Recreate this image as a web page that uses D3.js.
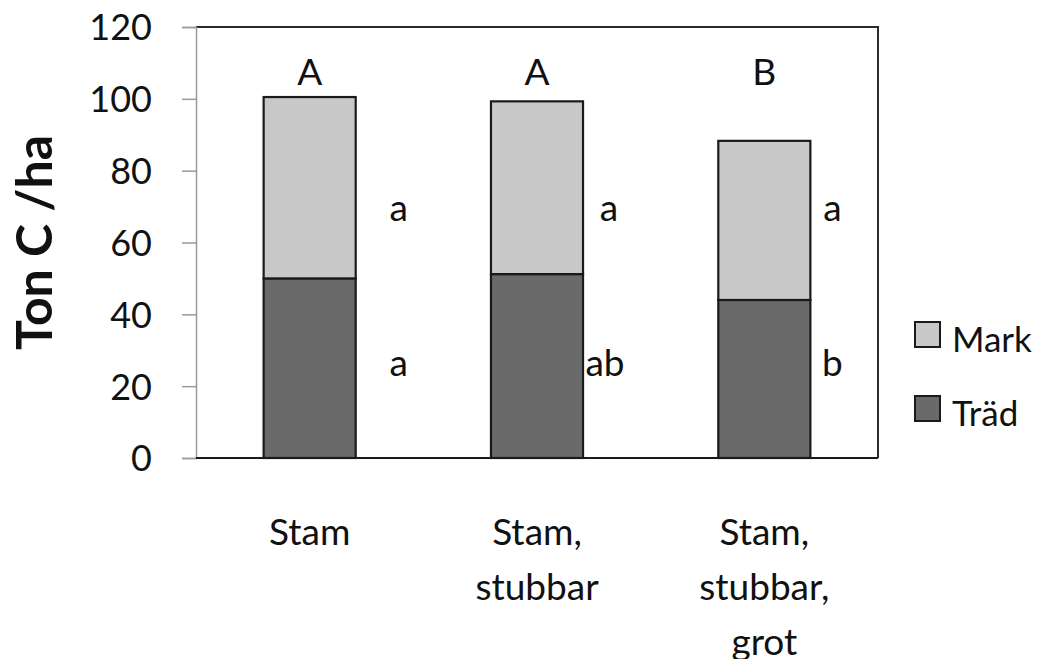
<!DOCTYPE html>
<html>
<head>
<meta charset="utf-8">
<script src="https://cdn.jsdelivr.net/npm/d3@7"></script>
<style>
  html, body { margin: 0; padding: 0; background: #fff; }
  svg { display: block; }
  text { font-family: Lato, "Open Sans", sans-serif; fill: #111; }
</style>
</head>
<body>
<svg id="chart" width="1049" height="659"></svg>
<script>
// Carbon stock per treatment (ton C / ha)
const categories = [["Stam"], ["Stam,", "stubbar"], ["Stam,", "stubbar,", "grot"]];
const tradValues = [50.0, 51.2, 44.0];
const markValues = [50.5, 48.1, 44.3];
const totalLetters = ["A", "A", "B"];
const markLetters = ["a", "a", "a"];
const tradLetters = ["a", "ab", "b"];
const yTicks = [0, 20, 40, 60, 80, 100, 120];
const seriesNames = ["Mark", "Träd"];
const seriesColors = { "Mark": "#c8c8c8", "Träd": "#6a6a6a" };

const svg = d3.select("#chart");
const plotLeft = 196, plotRight = 878, plotTop = 27, plotBottom = 458;

const x = d3.scaleBand().domain(d3.range(categories.length)).range([plotLeft, plotRight]).paddingInner(0.595).paddingOuter(0.2975);
const y = d3.scaleLinear().domain([0, 120]).range([plotBottom, plotTop]);

// frame: top and right edges
svg.append("path")
  .attr("d", `M${plotLeft},${plotTop}H${plotRight}V${plotBottom}`)
  .attr("fill", "none").attr("stroke", "#2a2a2a").attr("stroke-width", 2);

// y axis
const yAxis = svg.append("g").attr("transform", `translate(${plotLeft},0)`)
  .call(d3.axisLeft(y).tickValues(yTicks).tickSize(14).tickPadding(30));
yAxis.select(".domain").attr("stroke", "#9a9a9a").attr("stroke-width", 1.5);
yAxis.selectAll(".tick line").attr("stroke", "#9a9a9a").attr("stroke-width", 1.5);
yAxis.selectAll(".tick text").style("font-size", "36px").style("font-family", "Lato, sans-serif").attr("fill", "#111").attr("dy", "0.36em");

// stacked bars
const stacked = categories.map((c, i) => ({ i, trad: tradValues[i], mark: markValues[i] }));
const bw = x.bandwidth();
const g = svg.append("g");
stacked.forEach(d => {
  g.append("rect")
    .attr("x", x(d.i)).attr("width", bw)
    .attr("y", y(d.trad)).attr("height", y(0) - y(d.trad))
    .attr("fill", seriesColors["Träd"]).attr("stroke", "#1a1a1a").attr("stroke-width", 2.2);
  g.append("rect")
    .attr("x", x(d.i)).attr("width", bw)
    .attr("y", y(d.trad + d.mark)).attr("height", y(d.trad) - y(d.trad + d.mark))
    .attr("fill", seriesColors["Mark"]).attr("stroke", "#1a1a1a").attr("stroke-width", 2.2);
});

// bottom axis line
svg.append("line").attr("x1", plotLeft).attr("x2", plotRight).attr("y1", plotBottom).attr("y2", plotBottom)
  .attr("stroke", "#1a1a1a").attr("stroke-width", 2.2);

// significance letters: one row above the bars, two rows beside them
const letterOffset = [89, 72, 68];
stacked.forEach(d => {
  const cx = x(d.i) + bw / 2;
  svg.append("text").attr("x", cx).attr("y", 85)
    .attr("text-anchor", "middle").style("font-size", "37px").text(totalLetters[d.i]);
  svg.append("text").attr("x", cx + letterOffset[d.i]).attr("y", 221)
    .attr("text-anchor", "middle").style("font-size", "37px").text(markLetters[d.i]);
  svg.append("text").attr("x", cx + letterOffset[d.i] - (tradLetters[d.i].length > 1 ? 4 : 0)).attr("y", 376)
    .attr("text-anchor", "middle").style("font-size", "37px").text(tradLetters[d.i]);
});

// category labels
categories.forEach((lines, i) => {
  const t = svg.append("text").attr("x", x(i) + bw / 2).attr("y", 545)
    .attr("text-anchor", "middle").style("font-size", "37px");
  lines.forEach((ln, k) => {
    t.append("tspan").attr("x", x(i) + bw / 2).attr("dy", k === 0 ? 0 : 55).text(ln);
  });
});

// y axis title
svg.append("text")
  .attr("transform", `translate(52,${(plotTop + plotBottom) / 2}) rotate(-90)`)
  .attr("text-anchor", "middle")
  .style("font-size", "50px").style("font-weight", "bold")
  .text("Ton C /ha");

// legend
const legend = svg.append("g");
seriesNames.forEach((name, k) => {
  const ly = 322 + k * 74;
  legend.append("rect").attr("x", 915).attr("y", ly).attr("width", 25).attr("height", 25)
    .attr("fill", seriesColors[name]).attr("stroke", "#1a1a1a").attr("stroke-width", 2);
  legend.append("text").attr("x", 952).attr("y", ly + 30)
    .style("font-size", "35px").text(name);
});
</script>
</body>
</html>
